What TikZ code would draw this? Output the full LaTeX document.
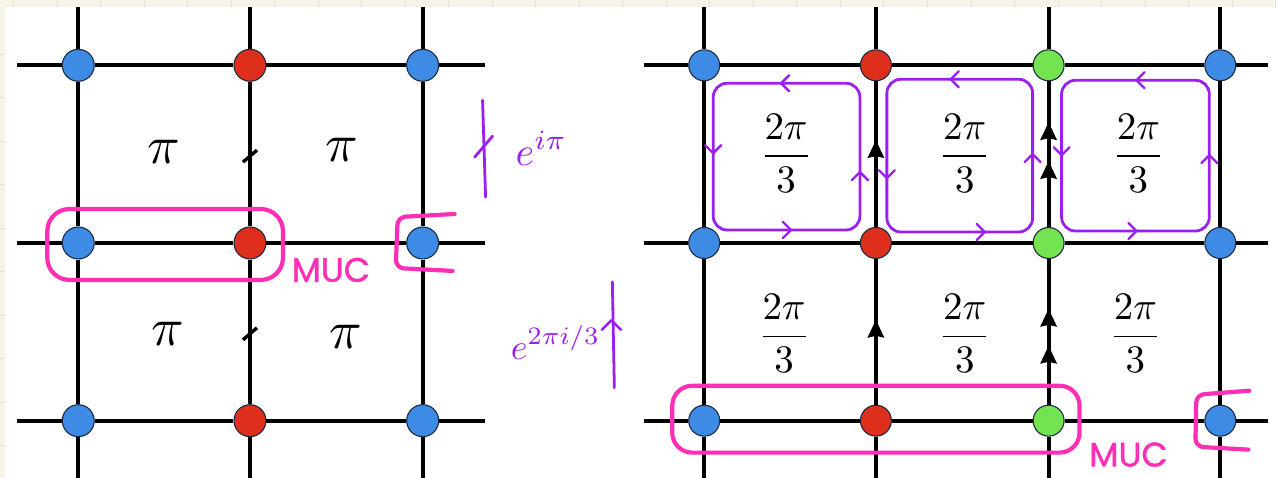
\documentclass[tikz,border=0pt]{standalone}
\usepackage{graphicx}
\usepackage{fontspec}
\usetikzlibrary{arrows.meta}
\newfontfamily\handfont[FakeBold=1.2]{Poppins}
\definecolor{bgcream}{HTML}{F6F4E9}
\definecolor{gridc}{HTML}{E4E0CC}
\definecolor{siteblue}{HTML}{3E8BE6}
\definecolor{sitered}{HTML}{DE2F1D}
\definecolor{sitegreen}{HTML}{74E352}
\definecolor{siteedge}{HTML}{1C2B3F}
\definecolor{penviolet}{HTML}{9B1FEF}
\definecolor{penpink}{HTML}{FF2FB5}
\newcommand{\bigmath}[2]{\scalebox{#1}{\fontsize{10}{12}\selectfont$\displaystyle #2$}}
\tikzset{
  site/.style={circle, draw=siteedge, line width=1.1pt, minimum size=32pt, inner sep=0pt},
  rsite/.style={site, minimum size=31pt},
  bond/.style={line width=4pt, black},
  pilabel/.style={inner sep=0pt},
  fraclabel/.style={inner sep=0pt},
  pen/.style={penviolet, line width=2.8pt, line cap=round, line join=round},
  pentext/.style={penviolet, inner sep=0pt},
  marker/.style={penpink, line width=4.2pt, line cap=round, line join=round},
  markertext/.style={penpink, font=\handfont\fontsize{34}{40}\selectfont, inner sep=0pt},
  chev/.pic={\draw[pen, line width=2.4pt] (-5,-8) -- (3,0) -- (-5,8);},
  uptri/.pic={\fill[black] (0,-1) -- (-8.5,17) -- (0,15) -- (8.5,17) -- cycle;},
}
\begin{document}
\begin{tikzpicture}[x=1pt,y=-1pt]
% paper background
\fill[bgcream] (0,0) rectangle (1276,478);
\foreach \k in {0,...,29} \draw[gridc, line width=0.8pt] ({13+43.6*\k},0) -- ({13+43.6*\k},7);
\foreach \k in {1,...,10} \draw[gridc, line width=0.8pt] (0,{10+43.6*\k}) -- (5,{10+43.6*\k});
\fill[white] (5,7) rectangle (1276,478);
\useasboundingbox (0,0) rectangle (1276,478);

% ---------- left lattice ----------
\foreach \c/\x/\col in {1/78/siteblue,2/250/sitered,3/423/siteblue}
  \foreach \r/\y in {1/65,2/243,3/421}
    \node[site, fill=\col] (L\c\r) at (\x,\y) {};
\foreach \r/\y in {1/65,2/243,3/421} {
  \coordinate (LW\r) at (17,\y);
  \coordinate (LE\r) at (485,\y);
  \draw[bond] (LW\r) -- (L1\r) -- (L2\r) -- (L3\r) -- (LE\r);
}
\foreach \c/\x in {1/78,2/250,3/423} {
  \coordinate (LN\c) at (\x,7);
  \coordinate (LS\c) at (\x,478);
  \draw[bond] (LN\c) -- (L\c1) -- (L\c2) -- (L\c3) -- (LS\c);
}
\draw[bond, line width=3.4pt] (243,162) -- (257,150);
\draw[bond, line width=3.4pt] (243,340) -- (257,328);
\node[pilabel] (p1) at (164,152) {\bigmath{5.4}{\pi}};
\node[pilabel] (p2) at (342,150) {\bigmath{5.4}{\pi}};
\node[pilabel] (p3) at (168,334) {\bigmath{5.4}{\pi}};
\node[pilabel] (p4) at (346,337) {\bigmath{5.4}{\pi}};

% ---------- right lattice ----------
\foreach \c/\x/\col in {1/705/siteblue,2/877/sitered,3/1050/sitegreen,4/1222/siteblue}
  \foreach \r/\y in {1/65,2/243,3/421}
    \node[rsite, fill=\col] (R\c\r) at (\x,\y) {};
\foreach \r/\y in {1/65,2/243,3/421} {
  \coordinate (RW\r) at (645,\y);
  \coordinate (RE\r) at (1270,\y);
  \draw[bond] (RW\r) -- (R1\r) -- (R2\r) -- (R3\r) -- (R4\r) -- (RE\r);
}
\foreach \c/\x in {1/705,2/877,3/1050,4/1222} {
  \coordinate (RN\c) at (\x,7);
  \coordinate (RS\c) at (\x,478);
  \draw[bond] (RN\c) -- (R\c1) -- (R\c2) -- (R\c3) -- (RS\c);
}
% flux arrows on the vertical bonds
\pic at (877,141) {uptri};
\pic at (877,321) {uptri};
\pic at (1050,123) {uptri};
\pic at (1050,162) {uptri};
\pic at (1050,310) {uptri};
\pic at (1050,347) {uptri};

\foreach \n/\x/\y in {f1/787/153,f2/966/153,f3/1140/153,f4/785/334,f5/966/334,f6/1137/334}
  \node[fraclabel] (\n) at (\x,\y) {\bigmath{3.9}{\frac{2\pi}{3}}};

% ---------- violet annotations ----------
\draw[pen, rounded corners=14pt] (714,83) rectangle (861,230);
\draw[pen, rounded corners=14pt] (888,79) rectangle (1034,232);
\draw[pen, rounded corners=14pt] (1063,80) rectangle (1211,231);
\pic[rotate=180] at (785,83) {chev};
\pic[rotate=-90] at (714,150) {chev};
\pic at (789,230) {chev};
\pic[rotate=90] at (861,175) {chev};
\pic[rotate=180] at (955,79) {chev};
\pic[rotate=-90] at (888,175) {chev};
\pic at (983,232) {chev};
\pic[rotate=90] at (1034,157) {chev};
\pic[rotate=180] at (1141,80) {chev};
\pic[rotate=-90] at (1063,152) {chev};
\pic at (1135,231) {chev};
\pic[rotate=90] at (1211,158) {chev};

\coordinate (ta) at (483,100);
\coordinate (tb) at (486,197);
\draw[pen] (ta) -- (tb);
\draw[pen] (475,157) -- (493,136);
\node[pentext] (eipi) at (542,148) {\bigmath{4}{e^{i\pi}}};

\coordinate (ua) at (615,388);
\coordinate (ub) at (613,282);
\draw[pen] (ua) -- (ub);
\pic[rotate=90, scale=1.2] at (612,324) {chev};
\node[pentext] (etwo) at (556,343) {\bigmath{3.6}{e^{2\pi i/3}}};

% ---------- pink annotations ----------
\draw[marker, rounded corners=22pt] (47,209) rectangle (283,280);
\draw[marker, rounded corners=8pt] (455,214) -- (398,217) -- (396,268) -- (453,271);
\node[markertext] (muc1) at (331,270) {MUC};
\draw[marker, rounded corners=20pt] (673,386) rectangle (1081,453);
\draw[marker, rounded corners=8pt] (1251,391) -- (1198,395) -- (1197,447) -- (1250,450);
\node[markertext] (muc2) at (1130,455) {MUC};
\end{tikzpicture}
\end{document}
